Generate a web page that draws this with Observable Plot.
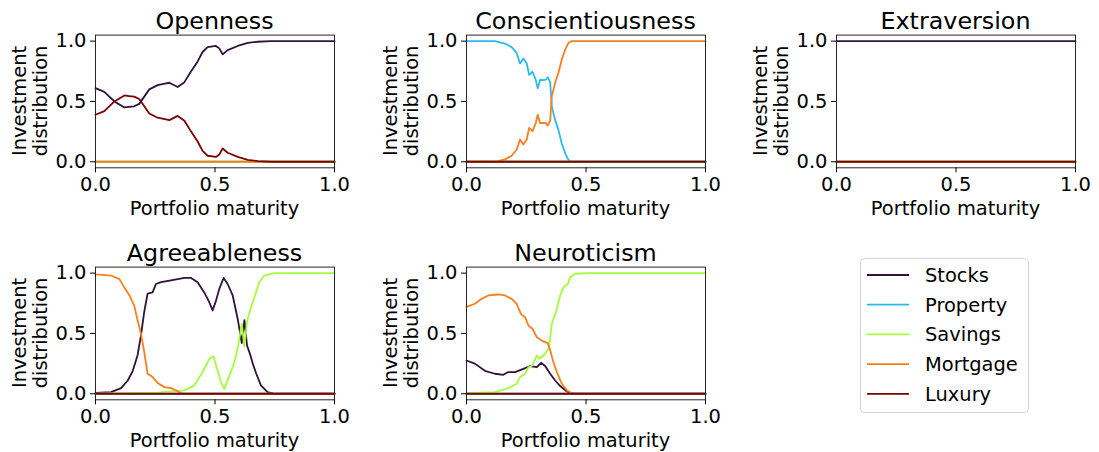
<!DOCTYPE html>
<html>
<head>
<meta charset="utf-8">
<script src="https://cdn.jsdelivr.net/npm/d3@7"></script>
<script src="https://cdn.jsdelivr.net/npm/@observablehq/plot@0.6"></script>
<style>
  html, body { margin: 0; padding: 0; background: #fff; }
  #wrap { position: relative; width: 1099px; height: 452px; overflow: hidden; font-family: "DejaVu Sans", sans-serif; }
  #wrap svg { position: absolute; }
</style>
</head>
<body>
<div id="wrap"></div>
<script>
// ---- Series names, colours, tick labels ----
const seriesNames = ["Stocks", "Property", "Savings", "Mortgage", "Luxury"];
const seriesColors = ["#30123b", "#28bbec", "#a4fc3c", "#fb7e21", "#7a0403"];
const panelTitles = ["Openness", "Conscientiousness", "Extraversion", "Agreeableness", "Neuroticism"];
const tickValues = [0, 0.5, 1];
const xLabel = "Portfolio maturity";
const yLabelLines = ["Investment", "distribution"];

// ---- Data: [portfolio maturity, investment share] ----
const flat0 = [[0, 0], [1, 0]];
const flat1 = [[0, 1], [1, 1]];

const openStocks = [[0,0.61],[0.037,0.58],[0.079,0.50],[0.121,0.45],[0.14,0.455],[0.162,0.46],[0.183,0.48],[0.204,0.54],[0.225,0.60],[0.26,0.635],[0.285,0.645],[0.309,0.655],[0.344,0.62],[0.372,0.66],[0.40,0.75],[0.427,0.83],[0.448,0.91],[0.469,0.95],[0.504,0.96],[0.518,0.94],[0.532,0.89],[0.553,0.925],[0.595,0.96],[0.637,0.985],[0.679,0.995],[0.734,1.0],[1,1]];
const openLuxury = [[0,0.39],[0.037,0.42],[0.079,0.50],[0.121,0.55],[0.14,0.545],[0.162,0.54],[0.183,0.52],[0.204,0.46],[0.225,0.40],[0.26,0.365],[0.285,0.355],[0.309,0.345],[0.344,0.38],[0.372,0.34],[0.40,0.25],[0.427,0.17],[0.448,0.09],[0.469,0.05],[0.504,0.04],[0.518,0.06],[0.532,0.11],[0.553,0.075],[0.595,0.04],[0.637,0.015],[0.679,0.005],[0.734,0],[1,0]];

const consProperty = [[0,1],[0.119,1.0],[0.161,0.98],[0.189,0.95],[0.21,0.90],[0.224,0.815],[0.238,0.856],[0.252,0.815],[0.262,0.72],[0.276,0.746],[0.29,0.677],[0.298,0.61],[0.308,0.68],[0.322,0.677],[0.332,0.68],[0.34,0.70],[0.35,0.66],[0.357,0.455],[0.371,0.345],[0.385,0.26],[0.399,0.15],[0.413,0.07],[0.427,0.014],[0.441,0],[1,0]];
const consMortgage = [[0,0],[0.119,0],[0.161,0.02],[0.189,0.05],[0.21,0.10],[0.224,0.185],[0.238,0.144],[0.252,0.185],[0.262,0.28],[0.276,0.254],[0.29,0.323],[0.298,0.39],[0.308,0.32],[0.322,0.323],[0.332,0.32],[0.34,0.30],[0.35,0.34],[0.357,0.545],[0.371,0.655],[0.385,0.74],[0.399,0.85],[0.413,0.93],[0.427,0.986],[0.441,1],[1,1]];

const agreeStocks = [[0,0.008],[0.065,0.014],[0.107,0.047],[0.135,0.11],[0.156,0.19],[0.176,0.32],[0.19,0.48],[0.204,0.68],[0.218,0.83],[0.239,0.84],[0.253,0.91],[0.274,0.925],[0.316,0.94],[0.372,0.96],[0.40,0.96],[0.427,0.925],[0.455,0.84],[0.476,0.76],[0.49,0.69],[0.504,0.77],[0.518,0.87],[0.536,0.96],[0.553,0.91],[0.574,0.815],[0.595,0.62],[0.612,0.42],[0.623,0.61],[0.634,0.40],[0.648,0.32],[0.658,0.25],[0.672,0.17],[0.692,0.07],[0.72,0.014],[0.748,0],[1,0]];
const agreeSavings = [[0,0],[0.26,0.01],[0.372,0.028],[0.414,0.07],[0.448,0.18],[0.476,0.29],[0.494,0.31],[0.508,0.21],[0.525,0.097],[0.539,0.041],[0.56,0.15],[0.581,0.26],[0.595,0.38],[0.612,0.58],[0.623,0.39],[0.634,0.60],[0.648,0.70],[0.665,0.80],[0.685,0.925],[0.706,0.98],[0.748,1.0],[1,1]];
const agreeMortgage = [[0,0.99],[0.065,0.98],[0.10,0.95],[0.121,0.88],[0.142,0.815],[0.162,0.73],[0.176,0.61],[0.19,0.50],[0.204,0.345],[0.218,0.166],[0.239,0.138],[0.26,0.09],[0.288,0.055],[0.316,0.047],[0.337,0.028],[0.358,0.005],[0.372,0],[1,0]];

const neuroStocks = [[0,0.276],[0.035,0.25],[0.077,0.19],[0.119,0.166],[0.154,0.157],[0.175,0.18],[0.203,0.18],[0.238,0.207],[0.266,0.23],[0.294,0.22],[0.312,0.257],[0.329,0.23],[0.35,0.166],[0.371,0.11],[0.392,0.064],[0.42,0.019],[0.441,0],[1,0]];
const neuroSavings = [[0,0.005],[0.119,0.014],[0.175,0.047],[0.21,0.083],[0.224,0.138],[0.245,0.166],[0.259,0.22],[0.276,0.235],[0.294,0.318],[0.304,0.29],[0.329,0.33],[0.346,0.387],[0.357,0.58],[0.374,0.677],[0.392,0.815],[0.406,0.884],[0.424,0.91],[0.434,0.967],[0.455,0.995],[0.511,1.0],[1,1]];
const neuroMortgage = [[0,0.72],[0.035,0.746],[0.063,0.787],[0.091,0.815],[0.133,0.823],[0.161,0.815],[0.189,0.787],[0.21,0.746],[0.228,0.66],[0.245,0.635],[0.259,0.566],[0.276,0.539],[0.294,0.47],[0.315,0.44],[0.34,0.42],[0.35,0.36],[0.364,0.26],[0.378,0.18],[0.399,0.083],[0.42,0.028],[0.441,0.005],[0.462,0],[1,0]];

// series data per panel in order Stocks, Property, Savings, Mortgage, Luxury
const panelSeries = [
  [openStocks, flat0, flat0, flat0, openLuxury],
  [flat0, consProperty, flat0, consMortgage, flat0],
  [flat1, flat0, flat0, flat0, flat0],
  [agreeStocks, flat0, agreeSavings, agreeMortgage, flat0],
  [neuroStocks, flat0, neuroSavings, neuroMortgage, flat0]
];

// ---- Layout ----
const FS = 19.44, TFS = 23.8;
const W = 366, H = 226;
const mL = 95, mR = 32, mT = 34.6, mB = 58.7;
const colLeft = [0, 370.5, 741];
const rowTop = [0, 232.4];
const fw = W - mL - mR, fh = H - mT - mB;
const wrap = document.getElementById("wrap");
const fmt = d3.format(".1f");
const FF = "DejaVu Sans, sans-serif";

panelTitles.forEach((title, i) => {
  const col = i % 3, row = Math.floor(i / 3);
  const marks = [];
  panelSeries[i].forEach((data, s) => {
    marks.push(Plot.line(data, {x: d => d[0], y: d => d[1], stroke: seriesColors[s], strokeWidth: 1.8, curve: "linear"}));
  });
  marks.push(Plot.frame({stroke: "#262626", strokeWidth: 1}));
  marks.push(Plot.axisX({ticks: tickValues, tickFormat: fmt, tickSize: 5, tickPadding: 4.5, label: null, fontSize: FS, stroke: "#000"}));
  marks.push(Plot.axisY({ticks: tickValues, tickFormat: fmt, tickSize: 5, tickPadding: 4, label: null, fontSize: FS, stroke: "#000"}));
  const svg = Plot.plot({
    width: W, height: H,
    marginLeft: mL, marginRight: mR, marginTop: mT, marginBottom: mB,
    x: {domain: [0, 1]},
    y: {domain: [-0.05, 1.05]},
    style: {fontFamily: FF, fontSize: FS + "px", color: "#000", background: "transparent", overflow: "visible"},
    marks
  });
  svg.style.left = colLeft[col] + "px";
  svg.style.top = rowTop[row] + "px";
  const s = d3.select(svg);
  s.append("text").attr("x", mL + fw / 2).attr("y", 28.5).attr("text-anchor", "middle")
    .attr("font-size", TFS).attr("fill", "#000").attr("font-family", FF).text(title);
  s.append("text").attr("x", mL + fw / 2).attr("y", mT + fh + 48).attr("text-anchor", "middle")
    .attr("font-size", FS).attr("fill", "#000").attr("font-family", FF).text(xLabel);
  const cy = mT + fh / 2;
  [25.5, 46.5].forEach((bx, k) => {
    s.append("text").attr("transform", `translate(${bx},${cy}) rotate(-90)`).attr("text-anchor", "middle")
      .attr("font-size", FS).attr("fill", "#000").attr("font-family", FF).text(yLabelLines[k]);
  });
  wrap.appendChild(svg);
});

// ---- Legend ----
const leg = d3.create("svg").attr("width", 180).attr("height", 170)
  .style("left", "855px").style("top", "250px");
leg.append("rect").attr("x", 5.5).attr("y", 8.5).attr("width", 168).attr("height", 154).attr("rx", 4)
  .attr("fill", "#fff").attr("stroke", "#d3d3d3").attr("stroke-width", 1);
seriesNames.forEach((name, k) => {
  const y = 25 + k * 29.7;
  leg.append("line").attr("x1", 12).attr("x2", 54).attr("y1", y).attr("y2", y)
    .attr("stroke", seriesColors[k]).attr("stroke-width", 1.8);
  leg.append("text").attr("x", 70).attr("y", y).attr("dy", "0.36em").attr("font-size", FS)
    .attr("fill", "#000").attr("font-family", FF).text(name);
});
wrap.appendChild(leg.node());
</script>
</body>
</html>
